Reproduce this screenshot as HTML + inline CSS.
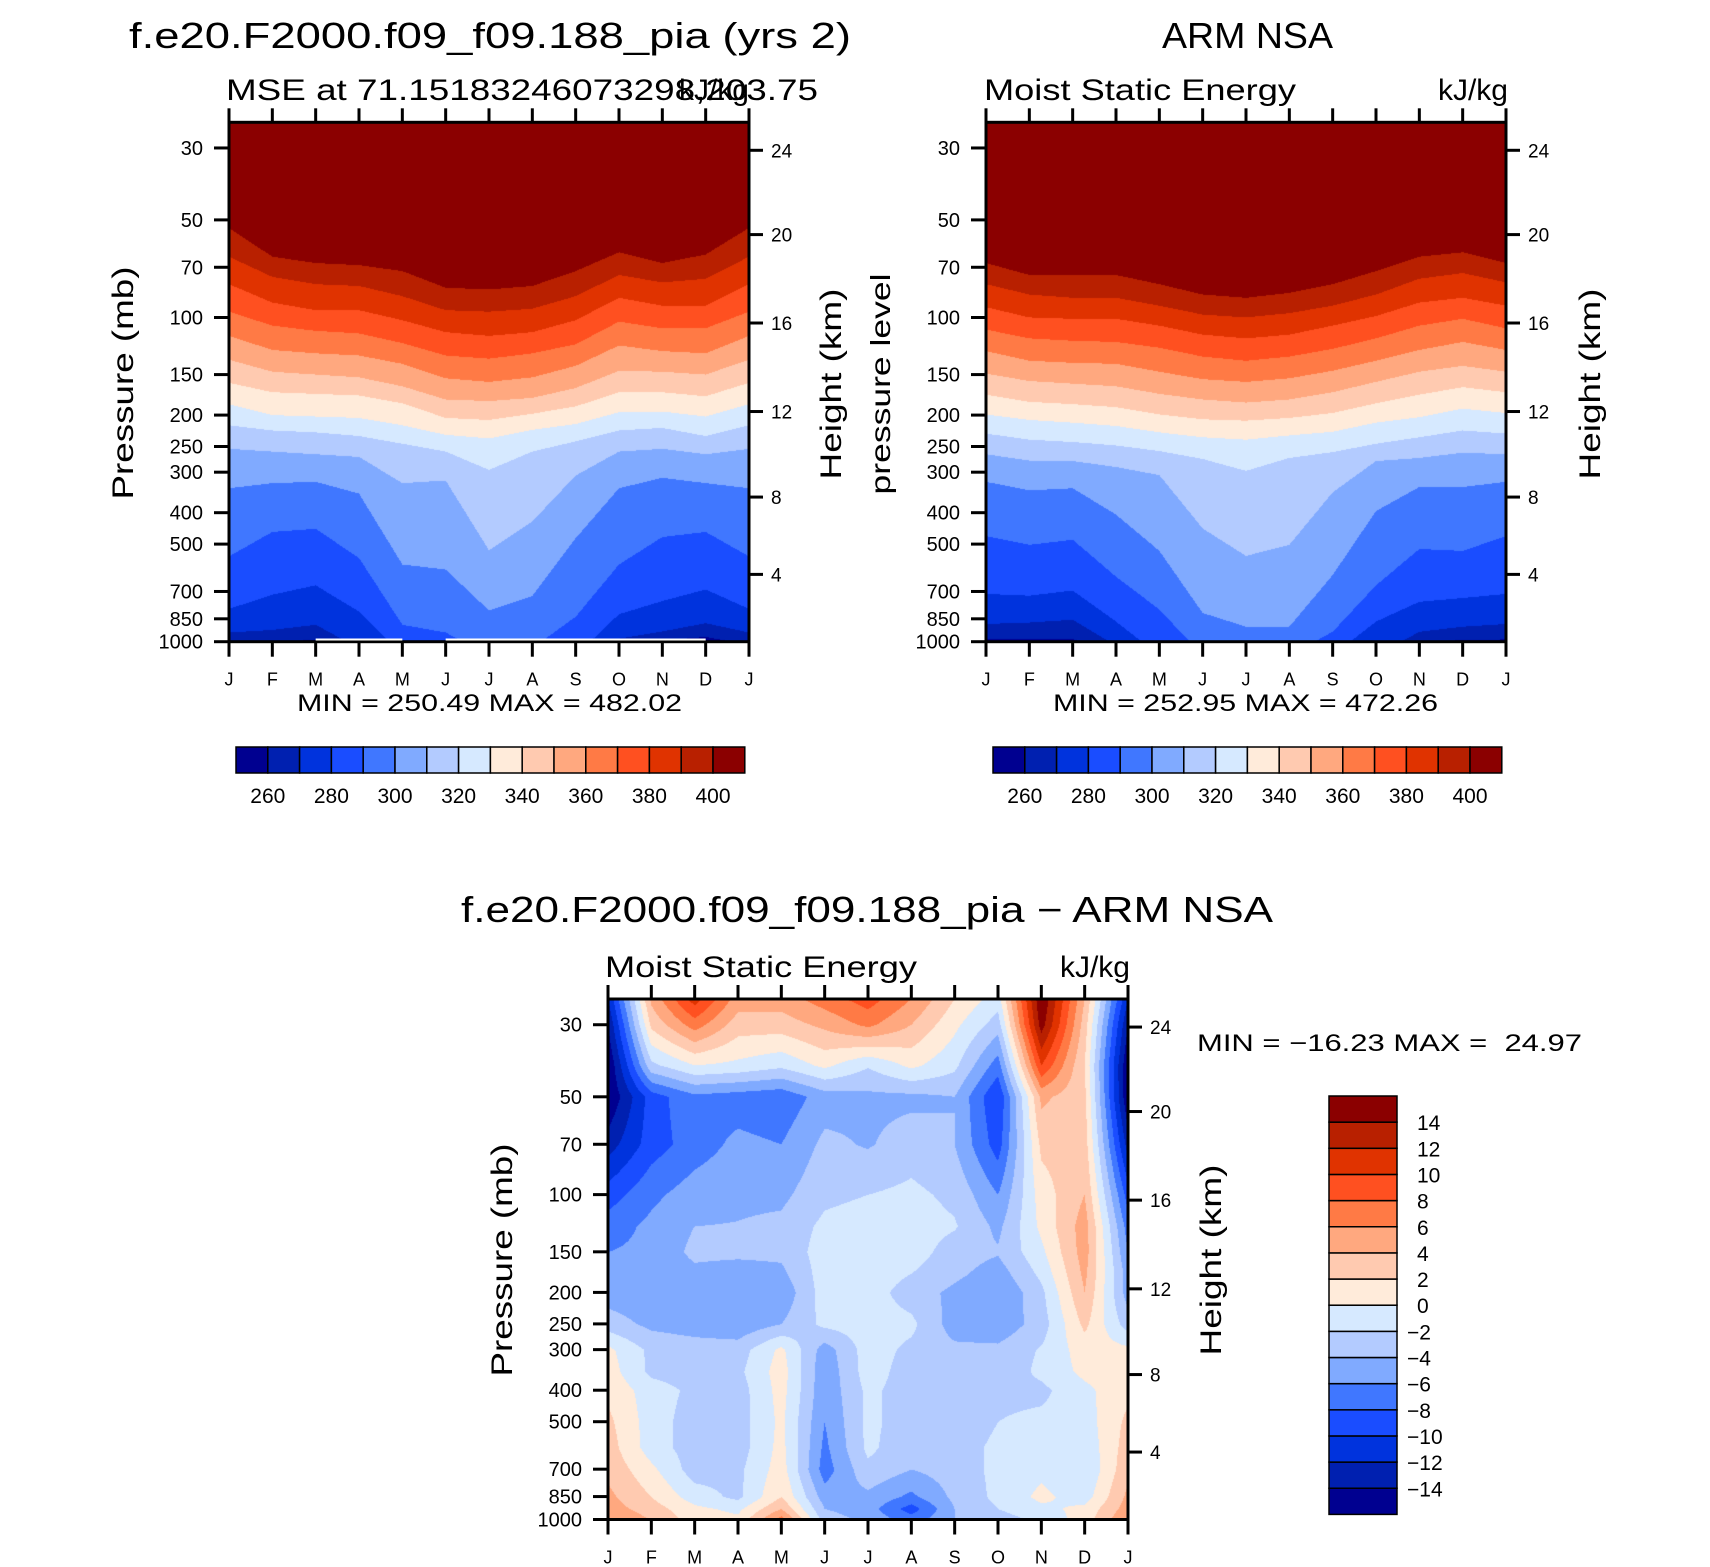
<!DOCTYPE html>
<html><head><meta charset="utf-8"><title>MSE ARM NSA</title>
<style>
html,body{margin:0;padding:0;background:#fff;}
body{width:1710px;height:1567px;position:relative;overflow:hidden;font-family:"Liberation Sans",sans-serif;}
canvas{position:absolute;}
svg{position:absolute;left:0;top:0;}
</style></head><body>
<canvas id="c1" width="520" height="520" style="left:229px;top:122px"></canvas>
<canvas id="c2" width="520" height="520" style="left:986px;top:122px"></canvas>
<canvas id="c3" width="520" height="521" style="left:608px;top:999px"></canvas>
<svg id="ov" width="1710" height="1567" font-family="Liberation Sans, sans-serif">
<text x="129" y="48" font-size="36" textLength="722" lengthAdjust="spacingAndGlyphs">f.e20.F2000.f09_f09.188_pia (yrs 2)</text>
<text x="226" y="100" font-size="30" textLength="592" lengthAdjust="spacingAndGlyphs">MSE at 71.15183246073298,203.75</text>
<text x="749" y="100" font-size="30" text-anchor="end">kJ/kg</text>
<text x="1162" y="48" font-size="36" textLength="171" lengthAdjust="spacingAndGlyphs">ARM NSA</text>
<text x="984" y="100" font-size="30" textLength="312" lengthAdjust="spacingAndGlyphs">Moist Static Energy</text>
<text x="1508" y="100" font-size="30" text-anchor="end">kJ/kg</text>
<text x="461" y="922" font-size="36" textLength="812" lengthAdjust="spacingAndGlyphs">f.e20.F2000.f09_f09.188_pia − ARM NSA</text>
<text x="605" y="977" font-size="30" textLength="312" lengthAdjust="spacingAndGlyphs">Moist Static Energy</text>
<text x="1130" y="977" font-size="30" text-anchor="end">kJ/kg</text>
<text x="297" y="711" font-size="24" textLength="385" lengthAdjust="spacingAndGlyphs">MIN = 250.49 MAX = 482.02</text>
<text x="1053" y="711" font-size="24" textLength="385" lengthAdjust="spacingAndGlyphs">MIN = 252.95 MAX = 472.26</text>
<text x="1197" y="1051" font-size="24" textLength="385" lengthAdjust="spacingAndGlyphs" xml:space="preserve">MIN = −16.23 MAX =  24.97</text>
<text transform="translate(133,383) rotate(-90)" font-size="30" text-anchor="middle" textLength="233" lengthAdjust="spacingAndGlyphs">Pressure (mb)</text>
<text transform="translate(841,384) rotate(-90)" font-size="30" text-anchor="middle" textLength="191" lengthAdjust="spacingAndGlyphs">Height (km)</text>
<text transform="translate(890,384) rotate(-90)" font-size="28" text-anchor="middle" textLength="221" lengthAdjust="spacingAndGlyphs">pressure level</text>
<text transform="translate(1600,384) rotate(-90)" font-size="30" text-anchor="middle" textLength="191" lengthAdjust="spacingAndGlyphs">Height (km)</text>
<text transform="translate(512,1260) rotate(-90)" font-size="30" text-anchor="middle" textLength="233" lengthAdjust="spacingAndGlyphs">Pressure (mb)</text>
<text transform="translate(1221,1260) rotate(-90)" font-size="30" text-anchor="middle" textLength="191" lengthAdjust="spacingAndGlyphs">Height (km)</text>
</svg>
<script>
const monthLabels=['J','F','M','A','M','J','J','A','S','O','N','D','J'];
const presTicks=[30,50,70,100,150,200,250,300,400,500,700,850,1000];
const heightTicks=[4,8,12,16,20,24];
const heightTickPres=[620,358,195,104,55.5,30.5];
const mseLevels=[260,270,280,290,300,310,320,330,340,350,360,370,380,390,400];
const diffLevels=[-14,-12,-10,-8,-6,-4,-2,0,2,4,6,8,10,12,14];
const palette=['#000090','#0020b0','#0033dd','#1a4dff','#4077ff','#80aaff','#b3cbff','#d6e9ff','#ffebda','#ffcab0','#ffa87f','#ff7a45','#ff5020','#e03300','#b82000','#8b0000'];
// pressure (mb) at which each MSE contour level is crossed, per month (model)
const model260=[1020,1000,985,1100,1100,1100,1100,1100,1100,1100,990,965,1020];
const model270=[935,918,885,1045,1100,1100,1100,1100,1100,977,928,875,935];
const model280=[791,715,669,806,1100,1100,1100,1100,1100,821,748,689,791];
const model290=[545,458,448,551,885,935,1100,1045,836,577,475,458,545];
const model300=[336,324,321,349,577,598,800,721,479,336,312,324,336];
const model310=[254,259,264,269,324,318,522,425,307,259,254,264,254];
const model320=[215,223,226,232,245,259,295,259,241,223,219,232,215];
const model330=[185,200,202,204,215,230,236,222,213,196,195,202,185];
const model340=[159,170,172,174,184,204,207,198,188,170,170,175,159];
const model350=[135,147,150,153,163,179,181,177,165,146,147,150,135];
const model360=[114,126,129,131,139,154,158,153,141,122,127,129,114];
const model370=[96,106,110,112,120,131,134,129,121,103,108,108,96];
const model380=[79,90,95,95,102,111,114,111,102,87,92,92,79];
const model390=[65,75,79,80,86,95,96,94,86,74,78,76,65];
const model400=[53,65,68,69,72,81,82,80,72,63,68,64,53];
// ARM observations
const arm260=[982,980,978,1100,1100,1100,1100,1100,1100,1100,1010,985,982];
const arm270=[880,871,854,1026,1100,1100,1100,1100,1100,1100,930,897,880];
const arm280=[711,720,694,865,1100,1100,1100,1100,1100,865,752,732,711];
const arm290=[472,502,484,629,794,1100,1100,1100,930,669,517,524,472];
const arm300=[321,341,336,405,524,814,897,897,622,395,333,333,321];
const arm310=[264,276,277,289,306,447,543,502,346,277,271,261,264];
const arm320=[228,238,242,248,258,273,297,271,260,245,234,223,228];
const arm330=[199,207,211,216,226,234,238,231,225,211,203,191,197];
const arm340=[173,182,185,189,199,206,208,204,197,184,173,164,170];
const arm350=[149,157,160,163,172,179,183,179,170,158,147,141,147];
const arm360=[127,136,138,139,147,155,158,154,146,136,126,119,126];
const arm370=[109,116,118,119,124,132,136,132,125,116,106,101,108];
const arm380=[93,100,101,101,106,113,116,113,106,99,90,87,92];
const arm390=[79,85,87,87,92,98,100,97,92,85,76,73,78];
const arm400=[68,74,74,74,79,85,87,84,79,72,65,63,68];
// difference field (kJ/kg) on pressure levels x months
const diffPres=[25,30,40,50,70,100,125,150,175,200,250,300,350,400,500,600,700,850,925,1000];
const diff25=[-12,4.5,11,5,5,7,9,6,2,-1,16,4,-12];
const diff30=[-14,2.5,7,3,3,4.5,6.5,4,0.5,-3,15,3,-14];
const diff40=[-16,-2.5,0,-0.5,-1.5,0.5,-1.8,0.5,-1.5,-7,10,2,-16];
const diff50=[-16,-9,-6.5,-7,-7.5,-5,-4.5,-4.5,-4,-10,4.5,2.5,-16];
const diff70=[-13,-9,-7,-5.5,-6,-3.5,-4.2,-3,-4,-9,2.5,3,-13];
const diff100=[-9,-6.5,-5,-4.5,-4.5,-2.5,-2,-1.5,-2.5,-6,1,4,-9];
const diff125=[-7,-5.5,-4,-3.9,-3.5,-1.5,-1,-1,-1.8,-4.5,0.5,5,-7];
const diff150=[-6,-5.5,-3.5,-3.5,-3.5,-1,-0.3,-1,-3,-3.8,-0.5,5,-6];
const diff175=[-5,-5.5,-4.5,-5,-4.5,-1,-0.8,-2,-3.5,-5,-1.5,4.5,-5];
const diff200=[-5,-5.5,-5,-5.5,-5.5,-1,-1,-3,-4.5,-6,-2.5,4,-5];
const diff250=[-3,-4.5,-5,-5.5,-4,-1.5,-1,-1.5,-5,-5.5,-3,2.5,-3];
const diff300=[0.5,-2.5,-3,-3,0.5,-5,-1,-2.5,-3.5,-3.5,-1.8,1,0.5];
const diff350=[1,-2.5,-3,-2.5,1,-5.5,-1,-3,-3,-3.5,-1.5,0.5,1];
const diff400=[1.5,-1,-2.5,-3,0.8,-5.5,-1.5,-3,-3,-2.5,-2.5,-0.5,1.5];
const diff500=[2.5,-1,-3,-3,0.5,-6,-1.5,-3,-3.5,-2,-1.5,-1,2.5];
const diff600=[3,-1,-3,-3,0.7,-6.5,-1.5,-3.5,-3,-1.5,-1,-1.5,3];
const diff700=[3.5,0.5,-3,-2.5,1,-7,-2.5,-4,-3,-1.5,-0.5,-2,3.5];
const diff850=[4.5,2,-1,-2.5,2,-5,-4.5,-6.5,-3.5,-1.5,0.5,-1,4.5];
const diff925=[5,3,0.5,-0.5,4,-4,-5,-9,-4,-2,-0.5,0.5,5];
const diff1000=[6,4,1,0.5,7,-3,-4.5,-7,-4,-3,-1.5,1,6];

const modelBounds=[model260,model270,model280,model290,model300,model310,model320,model330,model340,model350,model360,model370,model380,model390,model400];
const armBounds=[arm260,arm270,arm280,arm290,arm300,arm310,arm320,arm330,arm340,arm350,arm360,arm370,arm380,arm390,arm400];
const diffGrid=[diff25,diff30,diff40,diff50,diff70,diff100,diff125,diff150,diff175,diff200,diff250,diff300,diff350,diff400,diff500,diff600,diff700,diff850,diff925,diff1000];

const PW=520, L25=Math.log10(25), L1000=3;
function yScale(p,top,h){return top+(Math.log10(p)-L25)/(L1000-L25)*h;}
function xScale(m,left){return left+m/12*PW;}
function hexRGB(h){return [parseInt(h.slice(1,3),16),parseInt(h.slice(3,5),16),parseInt(h.slice(5,7),16)];}
const rgb=palette.map(hexRGB);

function drawBounds(id,bounds){
  const cv=document.getElementById(id),ctx=cv.getContext('2d');
  const W=cv.width,H=cv.height,img=ctx.createImageData(W,H);
  const lb=bounds.map(r=>r.map(v=>Math.log10(v)));
  for(let x=0;x<W;x++){
    const m=Math.min(11.9999,(x+0.5)/W*12),i=Math.floor(m),f=m-i;
    const col=lb.map(r=>r[i]*(1-f)+r[i+1]*f);
    for(let y=0;y<H;y++){
      const lp=L25+(y+0.5)/H*(L1000-L25);
      let c=0;for(const b of col){if(b<lp)c++;}
      const k=rgb[15-c],o=(y*W+x)*4;
      img.data[o]=k[0];img.data[o+1]=k[1];img.data[o+2]=k[2];img.data[o+3]=255;
    }
  }
  ctx.putImageData(img,0,0);
}
function drawGrid(id){
  const cv=document.getElementById(id),ctx=cv.getContext('2d');
  const W=cv.width,H=cv.height,img=ctx.createImageData(W,H);
  const lp=diffPres.map(Math.log10);
  for(let y=0;y<H;y++){
    const l=L25+(y+0.5)/H*(L1000-L25);
    let j=0;while(j<lp.length-2&&lp[j+1]<l)j++;
    const g=Math.max(0,Math.min(1,(l-lp[j])/(lp[j+1]-lp[j])));
    for(let x=0;x<W;x++){
      const m=Math.min(11.9999,(x+0.5)/W*12),i=Math.floor(m),f=m-i;
      const a=diffGrid[j][i]*(1-f)+diffGrid[j][i+1]*f;
      const b=diffGrid[j+1][i]*(1-f)+diffGrid[j+1][i+1]*f;
      const v=a*(1-g)+b*g;
      let c=0;for(const t of diffLevels){if(v>=t)c++;}
      const k=rgb[c],o=(y*W+x)*4;
      img.data[o]=k[0];img.data[o+1]=k[1];img.data[o+2]=k[2];img.data[o+3]=255;
    }
  }
  ctx.putImageData(img,0,0);
}
drawBounds('c1',modelBounds);
drawBounds('c2',armBounds);
drawGrid('c3');

const NS='http://www.w3.org/2000/svg',ov=document.getElementById('ov');
function mk(tag,attrs,parent){const e=document.createElementNS(NS,tag);for(const k in attrs)e.setAttribute(k,attrs[k]);(parent||ov).appendChild(e);return e;}

function axes(prefix,left,top,h){
  const g=mk('g',{});
  
  
  const fr=mk('rect',{x:left,y:top,width:PW,height:h,fill:'none',stroke:'#000','stroke-width':3},g);
  
  
  const bottom=top+h;
  monthLabels.forEach((mL,i)=>{
    const x=xScale(i,left);
    const t1=mk('line',{x1:x,x2:x,y1:top,y2:top-14,stroke:'#000','stroke-width':3},g);
    
    
    const t2=mk('line',{x1:x,x2:x,y1:bottom,y2:bottom+15,stroke:'#000','stroke-width':3},g);
    
    
    const tx=mk('text',{x:x,y:bottom+44,'font-size':18,'text-anchor':'middle'},g);
    tx.textContent=mL;
    
    
  });
  presTicks.forEach(p=>{
    const y=yScale(p,top,h);
    const t=mk('line',{x1:left,x2:left-15,y1:y,y2:y,stroke:'#000','stroke-width':3},g);
    
    
    const tx=mk('text',{x:left-26,y:y+7,'font-size':20,'text-anchor':'end'},g);
    tx.textContent=p;
    
    
  });
  heightTicks.forEach((z,i)=>{
    const y=yScale(heightTickPres[i],top,h);
    const t=mk('line',{x1:left+PW,x2:left+PW+14,y1:y,y2:y,stroke:'#000','stroke-width':3},g);
    
    
    const tx=mk('text',{x:left+PW+22,y:y+7,'font-size':19},g);
    tx.textContent=z;
    
    
  });
}
axes('model',229,122.3,519.4);
axes('arm',986,122.3,519.4);
axes('diff',608,999,520.5);

// missing data strips at surface in model panel
[[2,4],[5,11]].forEach(s=>{
  const r=mk('rect',{x:xScale(s[0],229),y:638.5,width:xScale(s[1],229)-xScale(s[0],229),height:2,fill:'#fff'});
  
  
});

function hbar(prefix,left){
  const cw=31.8,top=747,hh=26;
  const g=mk('g',{});
  
  
  palette.forEach((c,i)=>{
    const r=mk('rect',{x:left+i*cw,y:top,width:cw,height:hh,fill:c,stroke:'#000','stroke-width':1.5},g);
    
    
  });
  mseLevels.forEach((v,i)=>{
    if(i%2!==0)return;
    const tx=mk('text',{x:left+(i+1)*cw,y:top+hh+30,'font-size':21,'text-anchor':'middle'},g);
    tx.textContent=v;
    
    
  });
}
hbar('model',236);
hbar('arm',993);

(function(){
  const left=1329,top=1096,w=68,ch=26.15;
  const g=mk('g',{});
  
  
  palette.forEach((c,i)=>{
    const r=mk('rect',{x:left,y:top+(15-i)*ch,width:w,height:ch,fill:c,stroke:'#000','stroke-width':1.5},g);
    
    
  });
  diffLevels.forEach((v,i)=>{
    const y=top+(15-i)*ch;
    const tx=mk('text',{x:v<0?left+78:left+88,y:y+8,'font-size':21},g);
    tx.textContent=v<0?'\u2212'+Math.abs(v):String(v);
    
    
  });
})();
</script>
</body></html>
